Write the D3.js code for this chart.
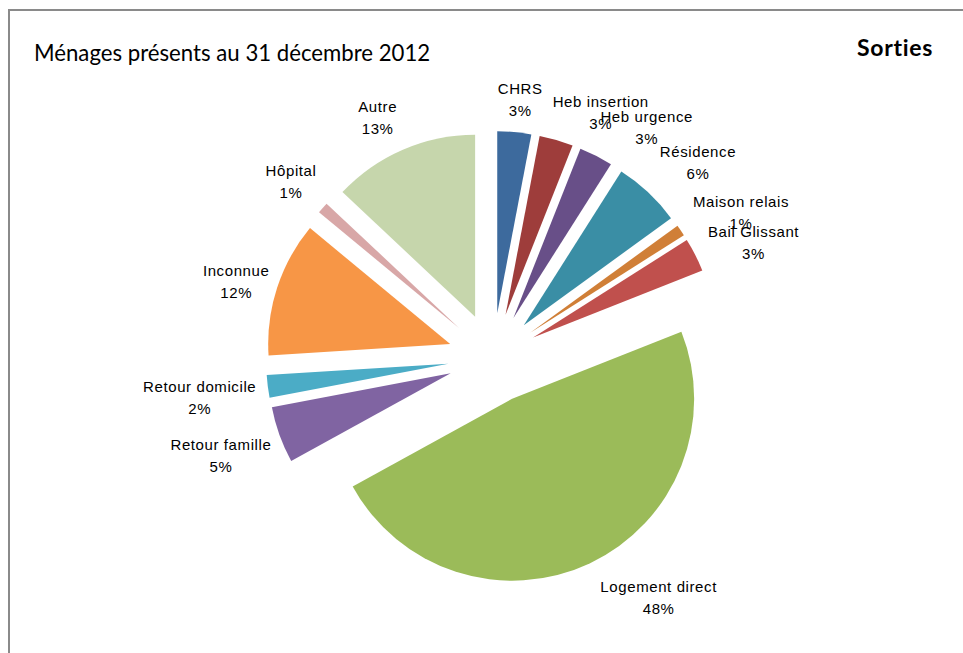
<!DOCTYPE html>
<html lang="fr">
<head>
<meta charset="utf-8">
<title>Sorties</title>
<script src="https://cdn.jsdelivr.net/npm/d3@7"></script>
<style>
  html, body { margin: 0; padding: 0; background: #fff; }
  svg { display: block; }
  .lbl { font-family: "Liberation Sans", Arial, sans-serif; font-size: 15px; letter-spacing: 0.6px; fill: #000; }
  .title { font-family: Lato, "Open Sans", sans-serif; fill: #000; }
</style>
</head>
<body>
<svg id="chart" width="963" height="653"></svg>
<script>
// Destinations of households leaving the service (share in %)
const categories = ["CHRS", "Heb insertion", "Heb urgence", "Résidence", "Maison relais",
  "Bail Glissant", "Logement direct", "Retour famille", "Retour domicile", "Inconnue",
  "Hôpital", "Autre"];
const shares = [3, 3, 3, 6, 1, 3, 48, 5, 2, 12, 1, 13];
const sliceColors = ["#3d6a9d", "#9e3d3b", "#684f88", "#3a8ea5", "#d07f37", "#c0504d",
  "#9bbb59", "#8064a2", "#4bacc6", "#f79646", "#d8a7a7", "#c6d6ac"];

// Label placement around each slice: distance from the pie centre and
// angular shift (degrees) from the slice bisector.
const labelDist = [260, 268, 277, 283, 287.5, 285, 291, 289, 296, 268, 268, 267];
const labelTurn = [0.6, 7.5, 6.7, 3.2, 3.8, 3.1, -9.5, 0.1, -0.5, -1.4, -0.3, -2.2];

const svg = d3.select("#chart");
const cx = 493, cy = 358, radius = 182, explode = 45;

// Chart frame
svg.append("rect")
  .attr("x", 9).attr("y", 10)
  .attr("width", 1000).attr("height", 700)
  .attr("fill", "none").attr("stroke", "#8a8a8a").attr("stroke-width", 2);

// Titles
svg.append("text").attr("class", "title")
  .attr("x", 34).attr("y", 61)
  .style("font-size", "22.2px")
  .text("Ménages présents au 31 décembre 2012");

svg.append("text").attr("class", "title")
  .attr("x", 933).attr("y", 56)
  .attr("text-anchor", "end")
  .style("font-size", "23px").style("font-weight", "bold")
  .style("letter-spacing", "0.7px")
  .text("Sorties");

const items = categories.map((c, i) => ({ name: c, value: shares[i], i }));
const pie = d3.pie().value(d => d.value).sort(null).startAngle(0).endAngle(2 * Math.PI);
const arcs = pie(items);
const arc = d3.arc().innerRadius(0).outerRadius(radius);

const g = svg.append("g").attr("transform", `translate(${cx},${cy})`);

// Exploded slices: each one pushed out along its bisector
g.selectAll("path.slice")
  .data(arcs)
  .join("path")
  .attr("class", "slice")
  .attr("fill", d => sliceColors[d.data.i])
  .attr("transform", d => {
    const a = (d.startAngle + d.endAngle) / 2;
    return `translate(${explode * Math.sin(a)},${-explode * Math.cos(a)})`;
  })
  .attr("d", arc);

// Data labels: category name and share on two lines
g.selectAll("text.lbl")
  .data(arcs)
  .join("text")
  .attr("class", "lbl")
  .attr("text-anchor", "middle")
  .each(function (d) {
    const k = d.data.i;
    const a = (d.startAngle + d.endAngle) / 2 + labelTurn[k] * Math.PI / 180;
    const x = labelDist[k] * Math.sin(a);
    const y = -labelDist[k] * Math.cos(a);
    const t = d3.select(this);
    t.append("tspan").attr("x", x).attr("y", y - 5.5).text(d.data.name);
    t.append("tspan").attr("x", x).attr("y", y + 16.5).text(d.data.value + "%");
  });
</script>
</body>
</html>
